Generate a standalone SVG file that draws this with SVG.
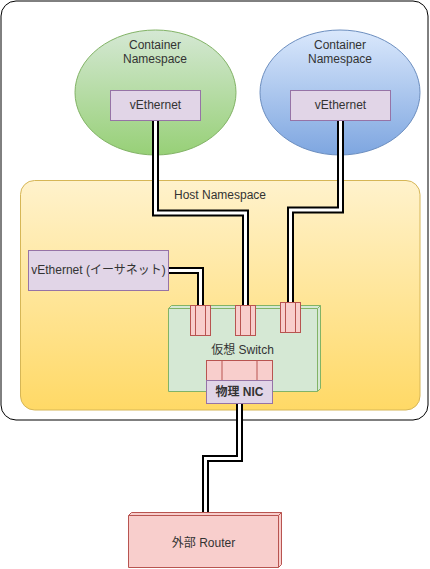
<svg xmlns="http://www.w3.org/2000/svg" width="430" height="569" viewBox="0 0 430 569">
<style>
text{font-family:"Liberation Sans",Arial,"Noto Sans CJK JP",sans-serif;font-size:12px;fill:#333333;text-anchor:middle}
.purple{fill:#e1d5e7;stroke:#9673a6;stroke-width:1}
.port{fill:#f8cecc;stroke:#b85450;stroke-width:1}
.pl{fill:none;stroke:#b85450;stroke-width:1}
.lk{fill:none;stroke:#000;stroke-width:7;stroke-linejoin:miter}
.lw{fill:none;stroke:#fff;stroke-width:3;stroke-linejoin:miter}
</style>
<defs>
<linearGradient id="gG" x1="0" y1="0" x2="0" y2="1"><stop offset="0" stop-color="#d5e8d4"/><stop offset="1" stop-color="#97d077"/></linearGradient>
<linearGradient id="gB" x1="0" y1="0" x2="0" y2="1"><stop offset="0" stop-color="#dae8fc"/><stop offset="1" stop-color="#7ea6e0"/></linearGradient>
<linearGradient id="gY" x1="0" y1="0" x2="0" y2="1"><stop offset="0" stop-color="#fff2cc"/><stop offset="1" stop-color="#ffd966"/></linearGradient>
</defs>

<g id="outer"><rect x="1" y="1" width="427" height="419" rx="15" fill="#fff" stroke="#000" stroke-width="1"/></g>

<g id="container1">
<ellipse cx="155.5" cy="92.5" rx="80.5" ry="62.5" fill="url(#gG)" stroke="#82b366"/>
<text x="155" y="49">Container</text><text x="155" y="63">Namespace</text>
</g>
<g id="container2">
<ellipse cx="340" cy="92.5" rx="80" ry="62.5" fill="url(#gB)" stroke="#6c8ebf"/>
<text x="340" y="49">Container</text><text x="340" y="63">Namespace</text>
</g>

<g id="host">
<rect x="20.5" y="180.5" width="399.5" height="229.5" rx="14" fill="url(#gY)" stroke="#d6b656"/>
<text x="220" y="199">Host Namespace</text>
</g>

<g id="veth1"><rect class="purple" x="110.5" y="90.5" width="90" height="30"/><text x="155.5" y="109">vEthernet</text></g>
<g id="veth2"><rect class="purple" x="290.5" y="90.5" width="100" height="30"/><text x="340.5" y="109">vEthernet</text></g>
<g id="vethHost"><rect class="purple" x="28.5" y="250.5" width="140" height="40"/><text x="98.5" y="274">vEthernet (イーサネット)</text></g>

<g id="switch">
<path d="M171.5,305.5 H320.5 V388.5 L317.5,391.5 H168.5 V308.5 Z" fill="#d5e8d4" stroke="#82b366"/>
<path d="M168.5,308.5 H317.5 V391.5 M317.5,308.5 L320.5,305.5" fill="none" stroke="#82b366"/>
<text x="242.5" y="354">仮想 Switch</text>
</g>

<g id="port1"><rect class="port" x="190.5" y="305.5" width="20" height="30"/><path class="pl" d="M195.5,305.5V335.5M205.5,305.5V335.5"/></g>
<g id="port2"><rect class="port" x="235.5" y="305.5" width="20" height="30"/><path class="pl" d="M240.5,305.5V335.5M250.5,305.5V335.5"/></g>
<g id="port3"><rect class="port" x="280.5" y="302.5" width="20" height="30"/><path class="pl" d="M285.5,302.5V332.5M295.5,302.5V332.5"/></g>
<g id="nicPort"><rect class="port" x="206.5" y="360.5" width="66" height="20"/><path class="pl" d="M222,360.5V380.5M257,360.5V380.5"/></g>
<g id="nic"><rect class="purple" x="206.5" y="380.5" width="66" height="23"/><text x="239.5" y="396" font-weight="bold">物理 NIC</text></g>

<g id="router">
<path d="M131.5,512.5 H281.5 V564.5 L278.5,567.5 H128.5 V515.5 Z" fill="#f8cecc" stroke="#b85450"/>
<path d="M128.5,515.5 H278.5 V567.5 M278.5,515.5 L281.5,512.5" fill="none" stroke="#b85450"/>
<text x="203.5" y="547">外部 Router</text>
</g>

<g id="connectors">
<path class="lk" d="M155.5,121 V213 H245.5 V305"/><path class="lw" d="M155.5,121 V213 H245.5 V305"/>
<path class="lk" d="M340.5,121 V210 H290.5 V302"/><path class="lw" d="M340.5,121 V210 H290.5 V302"/>
<path class="lk" d="M169,270.5 H200.5 V305"/><path class="lw" d="M169,270.5 H200.5 V305"/>
<path class="lk" d="M239.5,404 V458.5 H205.5 V512"/><path class="lw" d="M239.5,404 V458.5 H205.5 V512"/>
</g>
</svg>
